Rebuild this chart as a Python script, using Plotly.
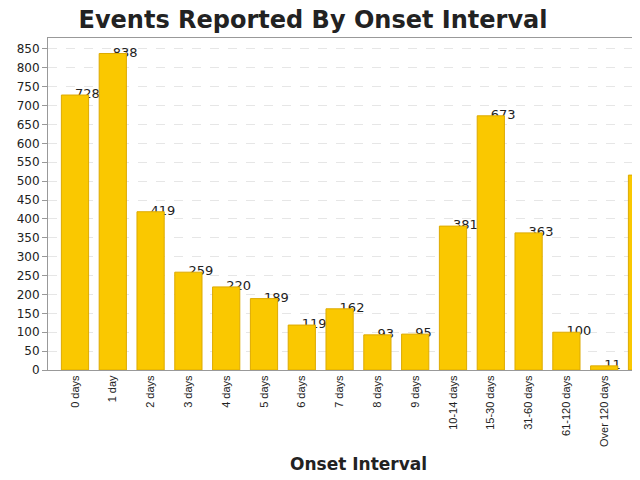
import plotly.graph_objects as go

categories = ["0 days", "1 day", "2 days", "3 days", "4 days", "5 days", "6 days",
              "7 days", "8 days", "9 days", "10-14 days", "15-30 days", "31-60 days",
              "61-120 days", "Over 120 days", "Unknown"]
values = [728, 838, 419, 259, 220, 189, 119, 162, 93, 95, 381, 673, 363, 100, 11, 516]
y_ticks = list(range(0, 851, 50))

idx = list(range(len(categories)))

fig = go.Figure()
# value labels (drawn beneath bars so neighbouring bars can overlap them)
fig.add_trace(go.Scatter(
    x=idx, y=values, mode="text", text=[str(v) for v in values],
    textposition="middle right",
    textfont=dict(family="DejaVu Sans", size=13, color="#222"),
    hoverinfo="skip", showlegend=False, cliponaxis=True,
    xaxis="x", yaxis="y"))
fig.add_trace(go.Bar(
    x=idx, y=values, width=0.72,
    marker=dict(color="#FAC800", line=dict(color="#DDAA00", width=1)),
    showlegend=False, xaxis="x2", yaxis="y2"))

xr = [-0.714, 14.947]
yr = [0, 879]
W, H = 632, 472
L, T, B = 40, 30, 110
pw, ph = W - L, H - T - B
fig.update_layout(
    width=W, height=H,
    margin=dict(l=L, r=0, t=T, b=B, autoexpand=False),
    paper_bgcolor="white", plot_bgcolor="white",
    title=dict(text="<b>Events Reported By Onset Interval</b>", x=305 / W, xanchor="center",
               y=1 - 11.5 / H, yanchor="middle", automargin=False,
               font=dict(family="DejaVu Sans", size=24, color="#222")),
    xaxis=dict(range=xr, tickmode="array", tickvals=idx, ticktext=categories,
               tickangle=-90, tickfont=dict(family="Liberation Sans", size=11, color="#222"),
               showgrid=False, showline=True, linecolor="#999", mirror=True,
               ticks="", zeroline=False, automargin=False),
    yaxis=dict(range=yr, tickmode="array", tickvals=y_ticks,
               tickfont=dict(family="DejaVu Sans", size=12, color="#222"),
               showgrid=True, gridcolor="#e6e6e6", griddash="dash",
               showline=True, linecolor="#999", mirror=True,
               ticks="outside", ticklen=5, tickcolor="#999", zeroline=False,
               automargin=False),
    xaxis2=dict(range=xr, overlaying="x", visible=False),
    yaxis2=dict(range=yr, overlaying="y", visible=False),
    annotations=[dict(text="<b>Onset Interval</b>", xref="paper", yref="paper",
                      x=(350 - L) / pw, y=-(456 - (H - B)) / ph,
                      xanchor="center", yanchor="middle", showarrow=False,
                      font=dict(family="DejaVu Sans", size=17, color="#222"))],
)
fig.write_html("out.html")
